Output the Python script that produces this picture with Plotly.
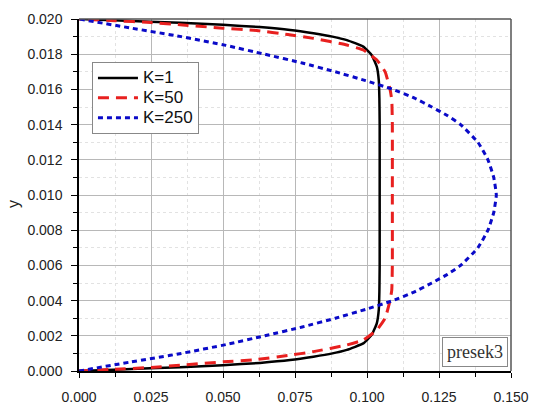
import plotly.graph_objects as go

# K=1 (black, solid)
u_k1 = [0, 0.012, 0.0247, 0.0351, 0.050, 0.0628, 0.0733, 0.0814, 0.088, 0.093, 0.0987, 0.1016, 0.1034, 0.1041, 0.1043, 0.1044, 0.1044,
        0.1044, 0.1043, 0.1041, 0.1034, 0.1016, 0.0987, 0.093, 0.088, 0.0814, 0.0733, 0.0628, 0.050, 0.0351, 0.0247, 0.012, 0]
y_k1 = [0, 0.00007, 0.00015, 0.00021, 0.00033, 0.00046, 0.00062, 0.00081, 0.0010, 0.0012, 0.00157, 0.00205, 0.00271, 0.0035, 0.0045, 0.006, 0.010,
        0.014, 0.0155, 0.0165, 0.01729, 0.01795, 0.01843, 0.0188, 0.0190, 0.01919, 0.01938, 0.01954, 0.01967, 0.01979, 0.01985, 0.01993, 0.0200]

# K=50 (red, dashed)
u_k50 = [0, 0.0125, 0.025, 0.036, 0.050, 0.0617, 0.0725, 0.0814, 0.093, 0.0987, 0.1034, 0.1063, 0.108, 0.1086, 0.1088, 0.1088,
         0.1088, 0.1086, 0.108, 0.1063, 0.1034, 0.0987, 0.093, 0.0814, 0.0725, 0.0617, 0.050, 0.036, 0.025, 0.0125, 0]
y_k50 = [0, 0.0001, 0.0002, 0.00034, 0.00052, 0.00065, 0.00088, 0.0011, 0.00148, 0.00176, 0.00233, 0.003, 0.004, 0.0046, 0.006, 0.010,
         0.014, 0.0154, 0.016, 0.017, 0.01767, 0.01824, 0.01852, 0.0189, 0.01912, 0.01935, 0.01948, 0.01966, 0.0198, 0.0199, 0.0200]

# K=250 (blue, dotted)
u_k250 = [0, 0.0175, 0.0355, 0.051, 0.0645, 0.0775, 0.089, 0.0995, 0.109, 0.1165, 0.1225, 0.128, 0.1325, 0.1385, 0.142, 0.144, 0.1449,
          0.144, 0.142, 0.1385, 0.1325, 0.128, 0.1225, 0.1165, 0.109, 0.0995, 0.089, 0.0775, 0.0645, 0.051, 0.0355, 0.0175, 0]
y_k250 = [0, 0.0005, 0.001, 0.0015, 0.002, 0.0025, 0.003, 0.0035, 0.004, 0.0045, 0.005, 0.0055, 0.006, 0.007, 0.008, 0.009, 0.010,
          0.011, 0.012, 0.013, 0.014, 0.0145, 0.015, 0.0155, 0.016, 0.0165, 0.017, 0.0175, 0.018, 0.0185, 0.019, 0.0195, 0.020]

series_names = ["K=1", "K=50", "K=250"]


def legend_label(s):
    return '<span style="font-size:17px">' + s + '</span>'


fig = go.Figure()
fig.add_trace(go.Scatter(x=u_k1, y=y_k1, mode="lines", name=legend_label(series_names[0]),
                         line=dict(color="#000000", width=2.5, shape="spline", smoothing=0.4)))
fig.add_trace(go.Scatter(x=u_k50, y=y_k50, mode="lines", name=legend_label(series_names[1]),
                         line=dict(color="#e8201f", width=3, dash="11px,7px", shape="spline", smoothing=0.4)))
fig.add_trace(go.Scatter(x=u_k250, y=y_k250, mode="lines", name=legend_label(series_names[2]),
                         line=dict(color="#0a0ac8", width=3, dash="5px,4px", shape="spline", smoothing=0.4)))

tickfont = dict(family="Liberation Sans, Arial", size=14, color="#222")
fig.update_layout(
    width=533, height=410,
    margin=dict(l=79, r=22, t=19, b=39, autoexpand=False),
    paper_bgcolor="white", plot_bgcolor="white",
    showlegend=True,
    legend=dict(x=0.03, y=0.878, xanchor="left", yanchor="top",
                bordercolor="#888", borderwidth=1, bgcolor="white",
                font=dict(family="Liberation Sans, Arial", size=13, color="#111"),
                itemwidth=40, tracegroupgap=0),
    xaxis=dict(range=[0, 0.15], dtick=0.025, tick0=0, tickformat=".3f",
               showline=True, linecolor="black", linewidth=1.5, mirror=False,
               ticks="outside", ticklen=5, tickwidth=1.2, tickcolor="black",
               showgrid=True, gridcolor="#b8b8b8", gridwidth=1, zeroline=False,
               tickfont=tickfont, ticklabelstandoff=7, automargin=False,
               minor=dict(dtick=0.0125, ticks="outside", ticklen=4, tickcolor="black",
                          showgrid=True, gridcolor="#e2e2e2", griddash="dot")),
    yaxis=dict(range=[0, 0.02], dtick=0.002, tick0=0, tickformat=".3f",
               showline=True, linecolor="black", linewidth=1.5, mirror=False,
               ticks="outside", ticklen=6, tickwidth=1.2, tickcolor="black",
               showgrid=True, gridcolor="#b8b8b8", gridwidth=1, zeroline=False,
               tickfont=tickfont, ticklabelstandoff=6, automargin=False,
               minor=dict(dtick=0.001, ticks="outside", ticklen=4, tickcolor="black",
                          showgrid=True, gridcolor="#e2e2e2", griddash="dot")),
    shapes=[
        dict(type="line", xref="paper", yref="paper", x0=0, x1=1, y0=1, y1=1,
             line=dict(color="#555", width=1.5)),
        dict(type="line", xref="paper", yref="paper", x0=1, x1=1, y0=0, y1=1,
             line=dict(color="#555", width=1.5)),
    ],
    annotations=[
        dict(text="presek3", xref="paper", yref="paper", x=0.993, y=0.011,
             xanchor="right", yanchor="bottom", showarrow=False,
             font=dict(family="Liberation Serif, Times New Roman", size=18, color="#333"),
             bordercolor="#888", borderwidth=1, borderpad=4, bgcolor="white"),
        dict(text="y", xref="paper", yref="paper", x=-0.153, y=0.474,
             xanchor="center", yanchor="middle", showarrow=False, textangle=-90,
             font=dict(family="Liberation Sans, Arial", size=16, color="#222")),
        dict(text="u", xref="paper", yref="paper", x=0.468, y=-0.09,
             xanchor="center", yanchor="top", showarrow=False,
             font=dict(family="Liberation Sans, Arial", size=16, color="#222")),
    ],
)

fig.write_html("out.html", config={"displayModeBar": False},
               post_script="document.body.style.margin='0px';document.body.style.overflow='hidden';")
